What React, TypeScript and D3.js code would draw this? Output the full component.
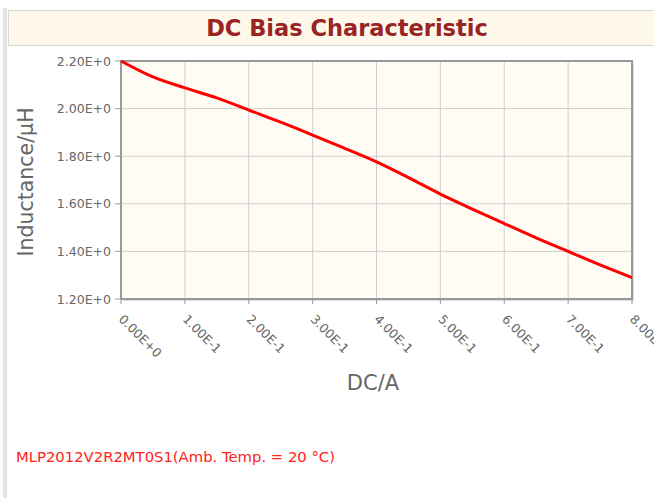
import { useRef, useEffect } from 'react';
import * as d3 from 'd3';

// DC current (A) vs inductance (uH)
const currentA = [0, 0.05, 0.1, 0.15, 0.2, 0.25, 0.3, 0.35, 0.4, 0.45, 0.5, 0.55, 0.6, 0.65, 0.7, 0.75, 0.8];
const inductanceUH = [2.2, 2.133, 2.087, 2.045, 1.994, 1.943, 1.889, 1.833, 1.776, 1.71, 1.641, 1.578, 1.517, 1.457, 1.4, 1.343, 1.29];
const xTicks = [0, 0.1, 0.2, 0.3, 0.4, 0.5, 0.6, 0.7, 0.8];
const yTicks = [1.2, 1.4, 1.6, 1.8, 2.0, 2.2];

const fmtE = (v: number) => {
  if (v === 0) return '0.00E+0';
  const e = Math.floor(Math.log10(Math.abs(v)) + 1e-9);
  const m = v / Math.pow(10, e);
  return `${m.toFixed(2)}E${e >= 0 ? '+' : ''}${e}`;
};

export default function App() {
  const svgRef = useRef<SVGSVGElement | null>(null);

  useEffect(() => {
    const width = 654, height = 498;
    const svg = d3.select(svgRef.current);
    svg.selectAll('*').remove();
    svg.attr('width', width).attr('height', height);

    const font = "'DejaVu Sans', sans-serif";

    // outer frame
    svg.append('rect').attr('x', 0).attr('y', 0).attr('width', width).attr('height', height).attr('fill', '#fff');
    svg.append('rect').attr('x', 3).attr('y', 8).attr('width', 4).attr('height', height - 8).attr('fill', '#e4e4e4');

    // header
    svg.append('rect')
      .attr('x', 8.5).attr('y', 10.5).attr('width', width - 8).attr('height', 35)
      .attr('fill', '#fef9eb').attr('stroke', '#d8d8d8');
    svg.append('text')
      .attr('x', 347).attr('y', 36)
      .attr('text-anchor', 'middle')
      .attr('font-family', font).attr('font-weight', 'bold').attr('font-size', 22.5)
      .attr('fill', '#9a2424')
      .text('DC Bias Characteristic');

    const left = 121, right = 632, top = 61, bottom = 299;
    const x = d3.scaleLinear().domain([0, 0.8]).range([left, right]);
    const y = d3.scaleLinear().domain([1.2, 2.2]).range([bottom, top]);

    // shadow + background
    svg.append('rect').attr('x', left + 2).attr('y', top + 2).attr('width', right - left).attr('height', bottom - top).attr('fill', '#ddd');
    svg.append('rect').attr('x', left).attr('y', top).attr('width', right - left).attr('height', bottom - top).attr('fill', '#fffcf4');

    // grid
    const g = svg.append('g');
    xTicks.slice(1, -1).forEach((t) => {
      g.append('line').attr('x1', x(t)).attr('x2', x(t)).attr('y1', top).attr('y2', bottom)
        .attr('stroke', '#cfcfcf').attr('stroke-width', 1);
    });
    yTicks.slice(1, -1).forEach((t) => {
      g.append('line').attr('x1', left).attr('x2', right).attr('y1', y(t)).attr('y2', y(t))
        .attr('stroke', '#cfcfcf').attr('stroke-width', 1);
    });

    // border
    svg.append('rect').attr('x', left).attr('y', top).attr('width', right - left).attr('height', bottom - top)
      .attr('fill', 'none').attr('stroke', '#999').attr('stroke-width', 2);

    // y ticks
    yTicks.forEach((t) => {
      svg.append('line').attr('x1', left - 6).attr('x2', left).attr('y1', y(t)).attr('y2', y(t))
        .attr('stroke', '#999').attr('stroke-width', 1);
      svg.append('text').attr('x', left - 10).attr('y', y(t) + 4.5)
        .attr('text-anchor', 'end').attr('font-family', font).attr('font-size', 12.5).attr('fill', '#666')
        .text(fmtE(t));
    });

    // x ticks
    xTicks.forEach((t) => {
      svg.append('line').attr('x1', x(t)).attr('x2', x(t)).attr('y1', bottom).attr('y2', bottom + 5)
        .attr('stroke', '#999').attr('stroke-width', 1);
      svg.append('text')
        .attr('transform', `translate(${x(t) - 3},${bottom + 21}) rotate(45)`)
        .attr('text-anchor', 'start').attr('font-family', font).attr('font-size', 12.5).attr('fill', '#666')
        .text(fmtE(t));
    });

    // axis titles
    svg.append('text').attr('x', 373).attr('y', 390).attr('text-anchor', 'middle')
      .attr('font-family', font).attr('font-size', 21).attr('fill', '#666').text('DC/A');
    svg.append('text').attr('transform', `translate(33,${(top + bottom) / 2 + 2}) rotate(-90)`)
      .attr('text-anchor', 'middle').attr('font-family', font).attr('font-size', 20.5).attr('fill', '#666')
      .text('Inductance/μH');

    // curve
    const pts: [number, number][] = currentA.map((c, i) => [c, inductanceUH[i]]);
    const line = d3.line<[number, number]>().x((d) => x(d[0])).y((d) => y(d[1])).curve(d3.curveMonotoneX);
    svg.append('path').attr('d', line(pts)).attr('fill', 'none').attr('stroke', '#ff0000').attr('stroke-width', 3);

    // legend
    svg.append('text').attr('x', 16).attr('y', 462)
      .attr('font-family', font).attr('font-size', 14.8).attr('fill', '#ff2020')
      .text('MLP2012V2R2MT0S1(Amb. Temp. = 20 °C)');
  }, []);

  return <svg ref={svgRef} style={{ position: 'absolute', left: 0, top: 0 }}></svg>;
}
